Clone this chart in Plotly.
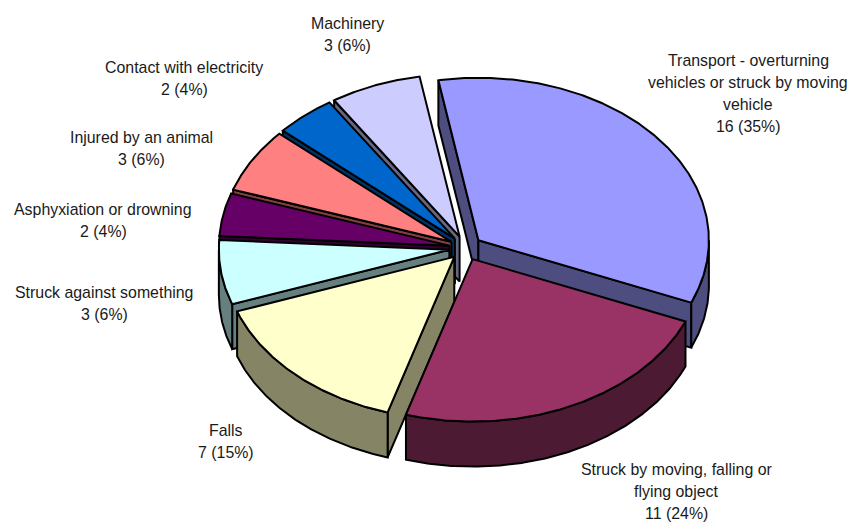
import numpy as np
import plotly.graph_objects as go

# ---- data ----
names = [
    ["Transport - overturning", "vehicles or struck by moving", "vehicle"],
    ["Struck by moving, falling or", "flying object"],
    ["Falls"],
    ["Struck against something"],
    ["Asphyxiation or drowning"],
    ["Injured by an animal"],
    ["Contact with electricity"],
    ["Machinery"],
]
values = [16, 11, 7, 3, 2, 3, 2, 3]
percents = [35, 24, 15, 6, 4, 6, 4, 6]
top_colors = ["#9999FF", "#993366", "#FFFFCC", "#CCFFFF", "#660066", "#FF8080", "#0066CC", "#CCCCFF"]
side_colors = ["#4D4D80", "#4D1A33", "#858566", "#668080", "#330033", "#804040", "#003366", "#666680"]

# ---- projection of the exploded 3-D pie ----
CX, CY = 465.6, 248.0
RX, RY = 230.5, 162.5
EXPLODE_X, EXPLODE_Y = 16.4, 12.3
DEPTH = 45.0
START_DEG = -10.0
LINE_W = 2

# ---- label placement (centre x, first line y) ----
label_pos = [(748, 60), (676.5, 469), (226, 430), (104, 292), (103, 209), (141.5, 137), (184, 67), (347.5, 23)]
LINE_H = 22.0
FONT = dict(family="Liberation Sans, Arial, sans-serif", size=15.9, color="#1a1a1a")

total = sum(values)
edges = START_DEG + np.concatenate([[0], np.cumsum(values)]) * 360.0 / total


def arc(t1, t2, tip):
    t = np.radians(np.linspace(t1, t2, max(2, int(abs(t2 - t1) * 2) + 1)))
    return tip[0] + RX * np.sin(t), tip[1] - RY * np.cos(t)


def polygon(xs, ys, color):
    return go.Scatter(
        x=np.append(xs, xs[0]), y=np.append(ys, ys[0]),
        mode="lines", fill="toself", fillcolor=color,
        line=dict(color="black", width=LINE_W),
        hoverinfo="skip", showlegend=False,
    )


def wall(tip, theta, color):
    r = np.radians(theta)
    ox, oy = tip[0] + RX * np.sin(r), tip[1] - RY * np.cos(r)
    return polygon(np.array([tip[0], ox, ox, tip[0]]),
                   np.array([tip[1], oy, oy + DEPTH, tip[1] + DEPTH]), color)


fig = go.Figure()
order = sorted(range(len(values)),
               key=lambda i: -np.cos(np.radians((edges[i] + edges[i + 1]) / 2)))
for i in order:
    a, b = edges[i], edges[i + 1]
    mid = np.radians((a + b) / 2)
    tip = (CX + EXPLODE_X * np.sin(mid), CY - EXPLODE_Y * np.cos(mid))
    # radial walls: only those that face the viewer (slice lies above the edge)
    for theta, other in ((a, b), (b, a)):
        r1, r2 = np.radians(theta), np.radians(other)
        ex, ey = RX * np.sin(r1), -RY * np.cos(r1)
        ix, iy = RX * np.sin((r1 + r2) / 2), -RY * np.cos((r1 + r2) / 2)
        below = (iy - ey / ex * ix) > 0 if abs(ex) > 1e-9 else False
        if not below:
            fig.add_trace(wall(tip, theta, side_colors[i]))
    # outer rim: front half only
    lo, hi = max(a, 90.0), min(b, 270.0)
    if hi > lo:
        xs, ys = arc(lo, hi, tip)
        fig.add_trace(polygon(np.concatenate([xs, xs[::-1]]),
                              np.concatenate([ys, ys[::-1] + DEPTH]), side_colors[i]))
    # top face
    xs, ys = arc(a, b, tip)
    fig.add_trace(polygon(np.concatenate([[tip[0]], xs]),
                          np.concatenate([[tip[1]], ys]), top_colors[i]))

for i, (lx, ly) in enumerate(label_pos):
    lines = names[i] + [f"{values[i]} ({percents[i]}%)"]
    for k, text in enumerate(lines):
        fig.add_annotation(x=lx, y=ly + k * LINE_H, text=text, showarrow=False,
                           xanchor="center", yanchor="middle", font=FONT)

fig.update_layout(
    width=850, height=522, margin=dict(l=0, r=0, t=0, b=0),
    paper_bgcolor="white", plot_bgcolor="white", showlegend=False,
    xaxis=dict(range=[0, 850], visible=False, fixedrange=True),
    yaxis=dict(range=[522, 0], visible=False, fixedrange=True),
)
fig.write_html("out.html", config={"displayModeBar": False},
               post_script="document.body.style.margin='0';document.body.style.overflow='hidden';")
